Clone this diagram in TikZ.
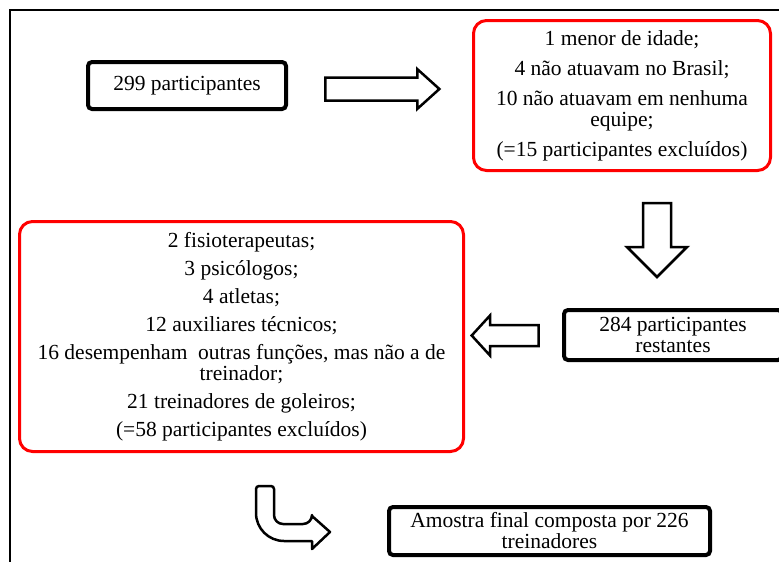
\documentclass[tikz,border=0pt]{standalone}
\usepackage{fontspec}
\setmainfont{Liberation Serif}
\usetikzlibrary{shapes.arrows}

\tikzset{
  box/.style={draw, line width=4pt, rounded corners=4pt, align=center, inner sep=0pt},
  redbox/.style={draw=red, line width=3pt, rounded corners=13pt, align=center, inner sep=0pt},
  blockarrow/.style={draw, single arrow, line width=2.5pt, single arrow head indent=0pt, inner xsep=0pt},
}

\begin{document}
\begin{tikzpicture}[x=1pt, y=-1pt, font=\fontsize{21.5}{21}\selectfont]
\useasboundingbox (0,0) rectangle (779,562);
\clip (0,0) rectangle (779,562);

% frame
\draw[line width=1.5pt] (10,562) -- (10,10) -- (779,10);

% boxes
\node[box, minimum width=198pt, minimum height=47pt] (total) at (187,85.5) {299 participantes};
\node[redbox, minimum width=297pt, minimum height=150pt] (excl1) at (622,95.5)
  {1 menor de idade;\\[9pt] 4 não atuavam no Brasil;\\[9pt] 10 não atuavam em nenhuma\\ equipe;\\[9pt] (=15 participantes excluídos)};
\node[box, minimum width=218pt, minimum height=50pt] (rest) at (673,335) {284 participantes\\ restantes};
\node[redbox, minimum width=444pt, minimum height=230pt] (excl2) at (241.5,336.5)
  {2 fisioterapeutas;\\[7pt] 3 psicólogos;\\[7pt] 4 atletas;\\[7pt] 12 auxiliares técnicos;\\[7pt]
   16 desempenham\ \ outras funções, mas não a de\\ treinador;\\[7pt] 21 treinadores de goleiros;\\[7pt]
   (=58 participantes excluídos)};
\node[box, minimum width=321pt, minimum height=48pt] (final) at (549.5,531) {Amostra final composta por 226\\ treinadores};

% block arrows
\node[blockarrow, inner ysep=10.25pt, single arrow head extend=8.25pt, single arrow tip angle=84,
  minimum height=114pt] (arrA) at (376,89) {};
\node[blockarrow, inner ysep=12.75pt, single arrow head extend=16pt, single arrow tip angle=90,
  minimum height=74pt, rotate=-90] (arrB) at (657,233) {};
\node[blockarrow, inner ysep=9.25pt, single arrow head extend=9.5pt, single arrow tip angle=95,
  minimum height=67pt, rotate=180] (arrC) at (510,335.5) {};
\draw[line width=2.5pt, line join=round]
  [rounded corners=3pt] (256,486) -- (274,486) [rounded corners=9pt] -- (274,524) -- (312,524)
  [sharp corners] -- (312,516) -- (330,532) -- (312,549) -- (312,541)
  [rounded corners=28pt] -- (256,541) [rounded corners=3pt] -- cycle;
\end{tikzpicture}
\end{document}
